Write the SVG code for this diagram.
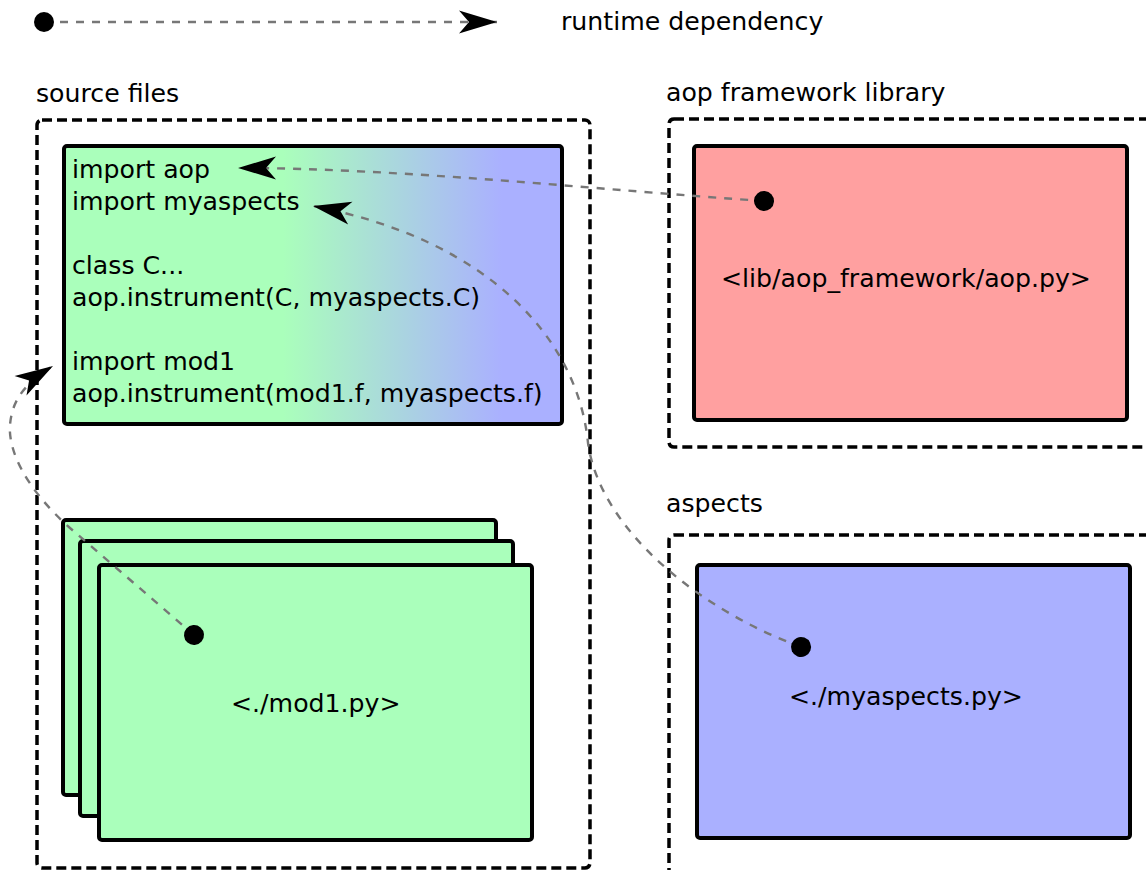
<svg xmlns="http://www.w3.org/2000/svg" width="1146" height="870" viewBox="0 0 1146 870">
  <style>
    .lbl { font-family: "DejaVu Sans", "Noto Sans", sans-serif; font-size: 25.2px; fill: #000; }
    .container { fill: none; stroke: #000; stroke-width: 3.5; stroke-dasharray: 10 5; }
    .box { stroke: #000; stroke-width: 4; }
    .conn { fill: none; stroke: #777; stroke-width: 2.4; stroke-dasharray: 8 8; }
  </style>
  <defs>
    <linearGradient id="grad" x1="0" y1="0" x2="1" y2="0">
      <stop offset="0.44" stop-color="#aaffbb"/>
      <stop offset="0.88" stop-color="#aab0ff"/>
    </linearGradient>
    <marker id="arrow" markerUnits="userSpaceOnUse" viewBox="-40 -13 42 26" markerWidth="42" markerHeight="26" refX="0" refY="0" orient="auto" overflow="visible">
      <path d="M0,0 L-38,-11.5 L-28,0 L-38,11.5 Z" fill="#000"/>
    </marker>
    <marker id="dot" markerUnits="userSpaceOnUse" viewBox="-11 -11 22 22" markerWidth="22" markerHeight="22" refX="0" refY="0" orient="auto" overflow="visible">
      <circle cx="0" cy="0" r="10" fill="#000"/>
    </marker>
  </defs>
  <rect width="1146" height="870" fill="#fff"/>

  <g id="legend">
    <path class="conn" d="M44,22 L497,22" marker-start="url(#dot)" marker-end="url(#arrow)"/>
    <text class="lbl" x="561" y="30">runtime dependency</text>
  </g>

  <g id="source-files">
    <text class="lbl" x="36" y="102">source files</text>
    <rect class="container" x="37" y="120" width="553" height="748" rx="5"/>
  </g>

  <g id="aop-framework-library">
    <text class="lbl" x="666" y="101">aop framework library</text>
    <rect class="container" x="669" y="119" width="520" height="328" rx="5"/>
  </g>

  <g id="aspects">
    <text class="lbl" x="666" y="512">aspects</text>
    <rect class="container" x="669" y="535" width="520" height="400" rx="5"/>
  </g>

  <g id="main-module">
    <rect class="box" x="64" y="146" width="498" height="278" rx="3" fill="url(#grad)"/>
    <text class="lbl" x="72" y="178">import aop</text>
    <text class="lbl" x="72" y="210">import myaspects</text>
    <text class="lbl" x="72" y="274">class C...</text>
    <text class="lbl" x="72" y="306">aop.instrument(C, myaspects.C)</text>
    <text class="lbl" x="72" y="370">import mod1</text>
    <text class="lbl" x="72" y="402">aop.instrument(mod1.f, myaspects.f)</text>
  </g>

  <g id="mod1">
    <rect class="box" x="63" y="520" width="433" height="275" rx="3" fill="#aaffbb"/>
    <rect class="box" x="80" y="541" width="433" height="275" rx="3" fill="#aaffbb"/>
    <rect class="box" x="99" y="565" width="433" height="275" rx="3" fill="#aaffbb"/>
    <text class="lbl" x="231" y="712">&lt;./mod1.py&gt;</text>
  </g>

  <g id="aop-py">
    <rect class="box" x="694" y="146" width="433" height="274" rx="3" fill="#ffa0a0"/>
    <text class="lbl" x="721" y="287">&lt;lib/aop_framework/aop.py&gt;</text>
  </g>

  <g id="myaspects-py">
    <rect class="box" x="697" y="565" width="433" height="273" rx="3" fill="#aab0ff"/>
    <text class="lbl" x="789" y="705">&lt;./myaspects.py&gt;</text>
  </g>

  <g id="connectors">
    <path class="conn" d="M764,201 C600,190 400,168 238,168" marker-start="url(#dot)" marker-end="url(#arrow)"/>
    <path class="conn" d="M801,647 C700,610 600,530 588,443 C578,340 490,240 313,206" marker-start="url(#dot)" marker-end="url(#arrow)"/>
    <path class="conn" d="M194,635 L70,528 C25,488 8,450 10,425 C12,400 25,383 53,366" marker-start="url(#dot)" marker-end="url(#arrow)"/>
  </g>
</svg>
